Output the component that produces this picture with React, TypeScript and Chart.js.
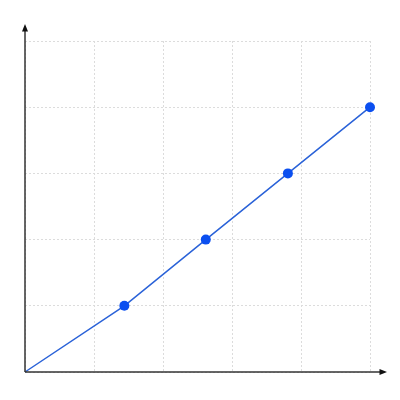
import React, { useEffect, useRef } from "react";
import { Chart, registerables } from "chart.js";

Chart.register(...registerables);

const xValues = [0, 1.44, 2.62, 3.81, 5];
const yValues = [0, 1, 2, 3, 4];
const pointRadii = [0, 5, 5, 5, 5];

const axisArrows = {
  id: "axisArrows",
  afterDatasetsDraw(chart: any) {
    const { ctx, chartArea } = chart;
    const { left, bottom } = chartArea;
    ctx.save();
    ctx.strokeStyle = "#333333";
    ctx.fillStyle = "#111111";
    ctx.lineWidth = 1.5;
    // x axis
    ctx.beginPath();
    ctx.moveTo(left, bottom);
    ctx.lineTo(381, bottom);
    ctx.stroke();
    ctx.beginPath();
    ctx.moveTo(387, bottom);
    ctx.lineTo(379.5, bottom - 3);
    ctx.lineTo(379.5, bottom + 3);
    ctx.closePath();
    ctx.fill();
    // y axis
    ctx.beginPath();
    ctx.moveTo(left, bottom);
    ctx.lineTo(left, 30);
    ctx.stroke();
    ctx.beginPath();
    ctx.moveTo(left, 24);
    ctx.lineTo(left - 3, 31.5);
    ctx.lineTo(left + 3, 31.5);
    ctx.closePath();
    ctx.fill();
    ctx.restore();
  },
};

export default function App() {
  const ref = useRef<HTMLCanvasElement>(null);
  useEffect(() => {
    if (!ref.current) return;
    const chart = new Chart(ref.current, {
      type: "line",
      data: {
        datasets: [
          {
            data: xValues.map((x, i) => ({ x, y: yValues[i] })),
            borderColor: "#2a62d8",
            borderWidth: 1.5,
            pointBackgroundColor: "#0b4ff0",
            pointBorderColor: "#0b4ff0",
            pointRadius: pointRadii,
            pointBorderWidth: 0,
            tension: 0,
            clip: false,
          },
        ],
      },
      options: {
        animation: false,
        responsive: false,
        devicePixelRatio: 1,
        layout: { padding: { left: 25, right: 30, top: 41, bottom: 28 } },
        plugins: { legend: { display: false }, tooltip: { enabled: false } },
        scales: {
          x: {
            type: "linear",
            min: 0,
            max: 5,
            ticks: { display: false, stepSize: 1 },
            grid: { color: "#dcdcdc", lineWidth: 1, drawTicks: false },
            border: { display: false, dash: [2, 2] },
          },
          y: {
            type: "linear",
            min: 0,
            max: 5,
            ticks: { display: false, stepSize: 1 },
            grid: { color: "#dcdcdc", lineWidth: 1, drawTicks: false },
            border: { display: false, dash: [2, 2] },
          },
        },
      },
      plugins: [axisArrows],
    });
    return () => chart.destroy();
  }, []);
  return (
    <div style={{ position: "fixed", left: 0, top: 0, width: 400, height: 400, background: "#fff" }}>
      <canvas ref={ref} width={400} height={400} style={{ width: 400, height: 400 }} />
    </div>
  );
}
